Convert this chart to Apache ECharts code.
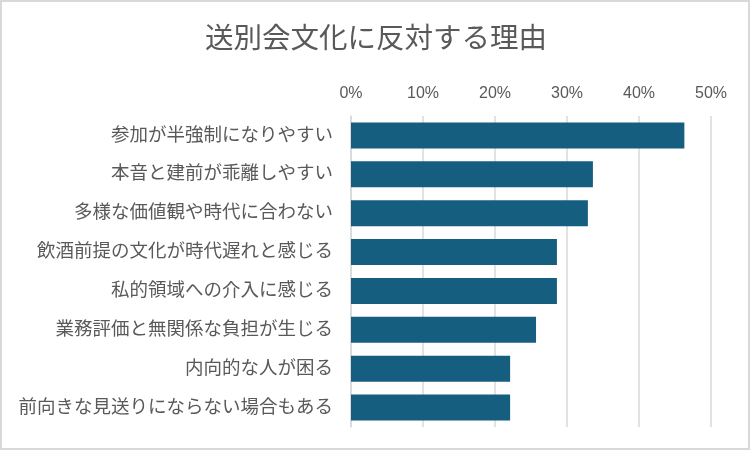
<!DOCTYPE html>
<html>
<head>
<meta charset="utf-8">
<script src="https://cdn.jsdelivr.net/npm/echarts@6/dist/echarts.min.js"></script>
<style>
  html, body { margin: 0; padding: 0; background: #fff; }
  #chart { width: 752px; height: 452px; }
</style>
</head>
<body>
<div id="chart"></div>
<script>
  'use strict';

  const titleText = '送別会文化に反対する理由';
  const reasons = [
    '参加が半強制になりやすい',
    '本音と建前が乖離しやすい',
    '多様な価値観や時代に合わない',
    '飲酒前提の文化が時代遅れと感じる',
    '私的領域への介入に感じる',
    '業務評価と無関係な負担が生じる',
    '内向的な人が困る',
    '前向きな見送りにならない場合もある'
  ];
  const shares = [46.3, 33.6, 32.9, 28.6, 28.6, 25.7, 22.1, 22.1];

  const textColor = '#595959';
  const gridColor = '#d9d9d9';
  const font = '"Liberation Sans", "Noto Sans CJK JP", sans-serif';

  const chart = echarts.init(document.getElementById('chart'), null, { renderer: 'canvas' });

  chart.setOption({
    backgroundColor: '#fff',
    animation: false,
    title: {
      text: titleText,
      left: 'center',
      top: 21,
      textStyle: { color: textColor, fontSize: 28.5, fontWeight: 'normal', fontFamily: font }
    },
    graphic: [{
      type: 'rect',
      shape: { x: 1, y: 1, width: 748, height: 448 },
      style: { fill: 'none', stroke: gridColor, lineWidth: 2 },
      silent: true
    }],
    grid: { left: 351, right: 41, top: 116, bottom: 25 },
    xAxis: {
      type: 'value',
      position: 'top',
      min: 0,
      max: 50,
      interval: 10,
      axisLine: { show: false },
      axisTick: { show: false },
      splitLine: { lineStyle: { color: gridColor, width: 1.5 } },
      axisLabel: { color: textColor, fontSize: 16, fontFamily: font, margin: 14, formatter: '{value}%' }
    },
    yAxis: {
      type: 'category',
      inverse: true,
      data: reasons,
      axisLine: { lineStyle: { color: gridColor, width: 1.5 } },
      axisTick: { show: false },
      axisLabel: { color: textColor, fontSize: 18.5, fontFamily: font, margin: 18 }
    },
    series: [{
      type: 'bar',
      data: shares,
      barWidth: '67%',
      itemStyle: { color: '#165e80' },
      silent: true
    }]
  });
</script>
</body>
</html>
